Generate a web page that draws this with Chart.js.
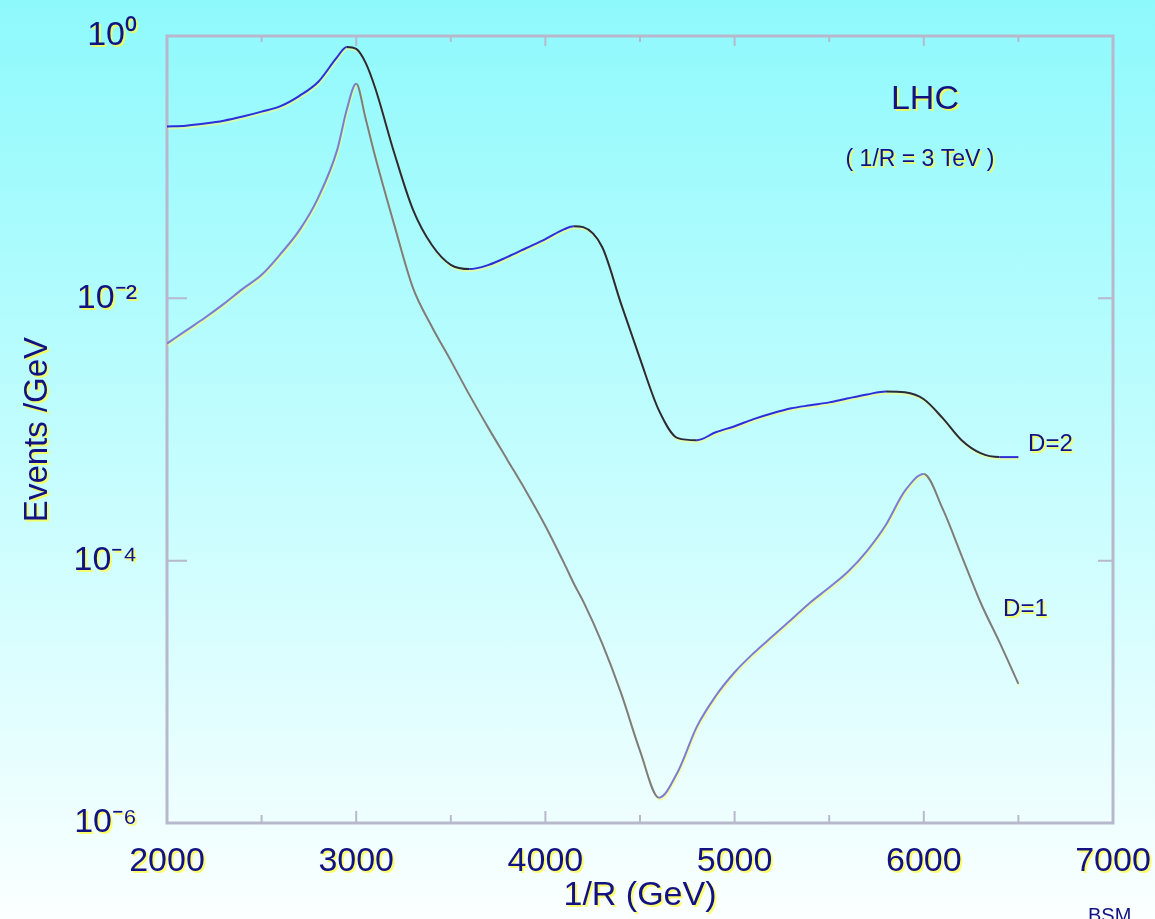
<!DOCTYPE html>
<html>
<head>
<meta charset="utf-8">
<script src="https://cdn.jsdelivr.net/npm/chart.js@4"></script>
<style>
  html, body { margin: 0; padding: 0; width: 1155px; height: 919px; overflow: hidden; }
  body { background: linear-gradient(to bottom, #8ef9fc 0%, #c4fdfe 50%, #fbffff 100%); }
  #wrap { position: relative; width: 1155px; height: 919px; }
  #corner { position: absolute; left: 1088px; top: 904px; font: 20px 'Liberation Sans', Arial, sans-serif; color: #121282; }
</style>
</head>
<body>
<div id="wrap">
  <canvas id="chart" width="1155" height="919"></canvas>
  <div id="corner">BSM</div>
</div>
<script>
// 1/R in GeV
var energies = [2000, 2100, 2200, 2300, 2400, 2500, 2600, 2700, 2800, 2900, 2950, 3000, 3050, 3100,
  3200, 3300, 3400, 3500, 3600, 3700, 3800, 3900, 4000, 4100, 4150, 4200, 4300, 4400, 4500, 4600,
  4700, 4800, 4900, 5000, 5100, 5200, 5300, 5400, 5500, 5600, 5700, 5800, 5900, 6000, 6100, 6200,
  6300, 6400, 6500];

// Events / GeV, D=2
var eventsD2 = [0.204, 0.207, 0.215, 0.226, 0.243, 0.265, 0.292, 0.350, 0.448, 0.693, 0.825, 0.797, 0.624, 0.403,
  0.130, 0.0475, 0.0255, 0.0180, 0.0167, 0.0180, 0.0207, 0.0242, 0.0283, 0.0337, 0.0355, 0.0349, 0.0246, 0.00908, 0.00347, 0.00140,
  0.000859, 0.000828, 0.000953, 0.00106, 0.00120, 0.00133, 0.00145, 0.00153, 0.00161, 0.00173, 0.00185, 0.00195, 0.00192, 0.00170, 0.00122, 0.000828,
  0.000660, 0.000616, 0.000616];

// Events / GeV, D=1
var eventsD1 = [0.00452, 0.00567, 0.00711, 0.00908, 0.0118, 0.0151, 0.0218, 0.0331, 0.0589, 0.136, 0.274, 0.432, 0.234, 0.121,
  0.0368, 0.0120, 0.00608, 0.00335, 0.00182, 0.00102, 0.000584, 0.000334, 0.000184, 0.0000949, 0.0000670, 0.0000489, 0.0000234, 0.00000977, 0.00000355, 0.00000156,
  0.00000246, 0.00000541, 0.00000929, 0.0000141, 0.0000197, 0.0000265, 0.0000356, 0.0000480, 0.0000624, 0.0000826, 0.000119, 0.000188, 0.000340, 0.000457, 0.000248, 0.000109,
  0.0000480, 0.0000239, 0.0000115];

var xTicks = [2000, 3000, 4000, 5000, 6000, 7000];
var xMinorTicks = [2500, 3500, 4500, 5500, 6500];
var yTicks = [1e-6, 1e-4, 1e-2, 1];
var yTickLabels = ['10\u207B\u2076', '10\u207B\u2074', '10\u207B\u00B2', '10\u2070'];

var textColor = '#121282';
var fontFamily = "'Liberation Sans', Arial, sans-serif";

function points(xs, ys) {
  return xs.map(function (x, i) { return { x: x, y: ys[i] }; });
}

// rising parts of the curves are bluish, falling parts dark
function segColor(up, down) {
  return function (ctx) { return ctx.p1.parsed.y >= ctx.p0.parsed.y ? up : down; };
}

var shadowPlugin = {
  id: 'shadow',
  beforeDraw: function (chart) {
    var c = chart.ctx;
    c.save();
    c.shadowColor = 'rgba(255,255,60,0.75)';
    c.shadowOffsetX = 2;
    c.shadowOffsetY = 2;
    c.shadowBlur = 0;
  },
  beforeDatasetsDraw: function (chart) {
    // lighter shadow under the curves
    chart.ctx.shadowColor = 'rgba(255,255,110,0.55)';
    chart.ctx.shadowOffsetX = 1;
  },
  afterDatasetsDraw: function (chart) {
    chart.ctx.shadowColor = 'rgba(255,255,60,0.75)';
    chart.ctx.shadowOffsetX = 2;
  },
  afterDraw: function (chart) {
    chart.ctx.restore();
  }
};

var framePlugin = {
  id: 'frame',
  beforeDatasetsDraw: function (chart) {
    var c = chart.ctx, a = chart.chartArea;
    var xs = chart.scales.x, ys = chart.scales.y;
    c.save();
    c.shadowColor = 'rgba(0,0,0,0)';
    c.strokeStyle = '#b8b8cc';
    c.lineWidth = 3;
    c.strokeRect(a.left, a.top, a.right - a.left, a.bottom - a.top);

    c.lineWidth = 2;
    c.beginPath();
    xTicks.concat(xMinorTicks).forEach(function (v) {
      var px = xs.getPixelForValue(v);
      var len = xTicks.indexOf(v) >= 0 ? 12 : 8;
      c.moveTo(px, a.bottom); c.lineTo(px, a.bottom - len);
      c.moveTo(px, a.top); c.lineTo(px, a.top + len - 2);
    });
    [1e-4, 1e-2].forEach(function (v) {
      var py = ys.getPixelForValue(v);
      c.moveTo(a.left, py); c.lineTo(a.left + 20, py);
      c.moveTo(a.right, py); c.lineTo(a.right - 15, py);
    });
    c.stroke();
    c.restore();
  },
  afterDatasetsDraw: function (chart) {
    var c = chart.ctx;
    var xs = chart.scales.x, ys = chart.scales.y;
    // annotations placed in data coordinates
    c.save();
    c.fillStyle = textColor;
    c.textBaseline = 'middle';
    c.textAlign = 'center';
    c.font = '34px ' + fontFamily;
    c.fillText('LHC', xs.getPixelForValue(6006), ys.getPixelForValue(0.327));
    c.font = '23px ' + fontFamily;
    c.fillText('( 1/R = 3 TeV )', xs.getPixelForValue(5980), ys.getPixelForValue(0.1145));
    c.textAlign = 'left';
    c.font = '24px ' + fontFamily;
    c.fillText('D=2', xs.getPixelForValue(6551), ys.getPixelForValue(7.75e-4));
    c.fillText('D=1', xs.getPixelForValue(6419), ys.getPixelForValue(4.25e-5));
    c.restore();
  }
};

var ctx = document.getElementById('chart').getContext('2d');
var myChart = new Chart(ctx, {
  type: 'line',
  data: {
    datasets: [
      {
        label: 'D=2',
        data: points(energies, eventsD2),
        borderColor: '#2e2ed8',
        borderWidth: 2,
        pointRadius: 0,
        cubicInterpolationMode: 'monotone',
        segment: { borderColor: segColor('#2e2ed8', '#2a2a3a') }
      },
      {
        label: 'D=1',
        data: points(energies, eventsD1),
        borderColor: '#7c7cc8',
        borderWidth: 2,
        pointRadius: 0,
        cubicInterpolationMode: 'monotone',
        segment: { borderColor: segColor('#7c7cd0', '#7c7c84') }
      }
    ]
  },
  options: {
    responsive: false,
    animation: false,
    layout: { padding: { left: 0, top: 36, right: 42, bottom: 0 } },
    plugins: {
      legend: { display: false },
      tooltip: { enabled: false }
    },
    scales: {
      x: {
        type: 'linear',
        min: 2000,
        max: 7000,
        afterBuildTicks: function (scale) {
          scale.ticks = xTicks.map(function (v) { return { value: v }; });
        },
        afterFit: function (scale) {
          scale.height = 96;
          scale.paddingLeft = 0;
          scale.paddingRight = 0;
        },
        grid: { display: false, drawTicks: false },
        border: { display: false },
        ticks: {
          color: textColor,
          padding: 18,
          maxRotation: 0,
          font: { family: fontFamily, size: 34 },
          callback: function (value) { return String(value); }
        },
        title: {
          display: true,
          text: '1/R (GeV)',
          color: textColor,
          font: { family: fontFamily, size: 34 },
          padding: { top: 0, bottom: 3 }
        }
      },
      y: {
        type: 'logarithmic',
        min: 1e-6,
        max: 1,
        afterBuildTicks: function (scale) {
          scale.ticks = yTicks.map(function (v) { return { value: v }; });
        },
        afterFit: function (scale) {
          scale.width = 167;
          scale.paddingTop = 0;
          scale.paddingBottom = 0;
        },
        grid: { display: false, drawTicks: false },
        border: { display: false },
        ticks: {
          color: textColor,
          padding: 30,
          font: { family: fontFamily, size: 34 },
          callback: function (value) {
            var i = yTicks.indexOf(value);
            return i >= 0 ? yTickLabels[i] : '';
          }
        },
        title: {
          display: true,
          text: 'Events /GeV',
          color: textColor,
          font: { family: fontFamily, size: 33 },
          padding: { top: 18, bottom: 0 }
        }
      }
    }
  },
  plugins: [shadowPlugin, framePlugin]
});
</script>
</body>
</html>
